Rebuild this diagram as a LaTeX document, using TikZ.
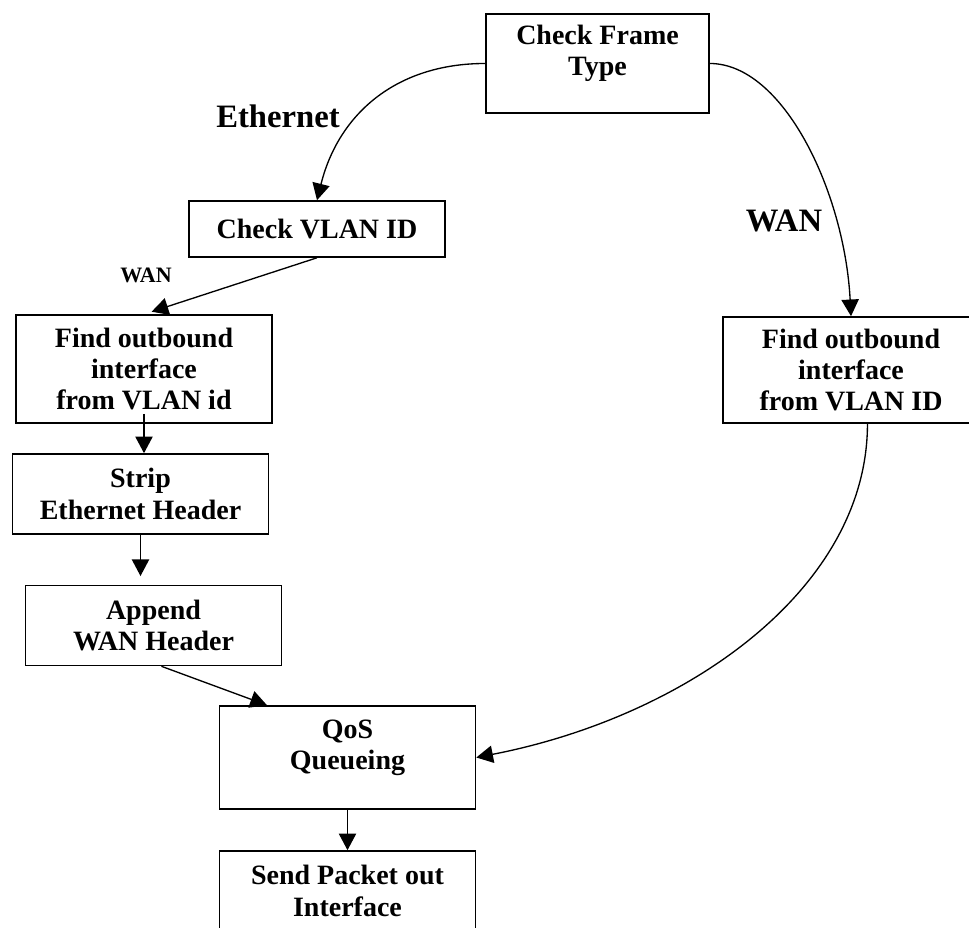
\documentclass[tikz,border=0pt]{standalone}
\usepackage{fontspec}
\setmainfont{Liberation Serif}
\usetikzlibrary{arrows.meta}

\begin{document}
\begin{tikzpicture}[x=0.75pt, y=0.75pt,
		box/.style={draw, line width=1.2pt, align=center, minimum width=192pt, font=\fontsize{21}{23.5}\selectfont\bfseries},
		arr/.style={-{Triangle[length=12.5pt, width=13pt]}, line width=1pt},
		lbl/.style={font=\fontsize{24.5}{28}\selectfont\bfseries}]
			\useasboundingbox (0,0) rectangle (969,927);
			\foreach \name/\x/\y/\h/\txt in {cvi/317/698/56/{Check VLAN ID}, findl/144/558/108/{Find outbound\\interface\\from VLAN id}, strip/140.5/433/80/{Strip\\Ethernet Header}, append/153.5/301.5/80/{Append\\WAN Header}, send/347.5/36/80/{Send Packet out\\Interface}, findr/851/557/106/{Find outbound\\interface\\from VLAN ID}}
			{
				\node[box, minimum height=\h*0.75pt] (\name) at (\x,\y) {\txt};
			}
			\node[box, minimum width=167.25pt, minimum height=74.25pt] (frame) at (597.5,863.5) {Check Frame\\Type\\[-4pt]\mbox{}};
			\node[box, minimum height=77.25pt] (qos) at (347.5,169.5) {QoS\\Queueing\\[-4pt]\mbox{}};
			% branch labels
			\node[lbl] (eth) at (278,811) {Ethernet};
			\node[lbl] (wanr) at (784,706) {WAN};
			\node[lbl, font=\fontsize{16.5}{20}\selectfont\bfseries] (wanl) at (146,652) {WAN};
			\draw[arr] (frame.west) to[out=180, in=76, looseness=1.05] (cvi.north);
			\draw[arr] (frame.east) to[out=0, in=93, out looseness=0.65, in looseness=1.1] (findr.north);
			\draw[arr, shorten >=6pt] (cvi.south) -- (findl.north);
			\draw[arr] ([yshift=7.5pt]findl.south) -- (findl.south |- strip.north);
			\draw[arr, shorten >=6.5pt] (strip.south) -- (strip.south |- append.north);
			\draw[arr] (append.-79) -- (qos.147);
			\draw[arr] (qos.south) -- (send.north);
			\draw[arr] (findr.-73) to[out=-90, in=11, out looseness=0.82, in looseness=1.07] (qos.east);
		\end{tikzpicture}
\end{document}
